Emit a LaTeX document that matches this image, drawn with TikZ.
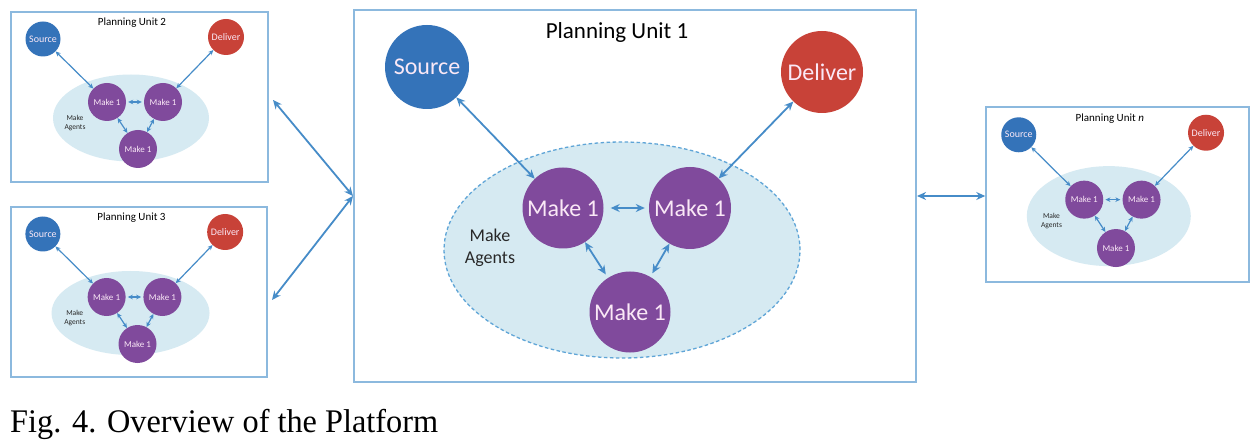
\documentclass[tikz,border=0pt]{standalone}
\usepackage{fontspec}
\setmainfont{Carlito}
\newfontfamily\capfont{Liberation Serif}
\usetikzlibrary{arrows.meta,shapes.geometric}
\definecolor{boxc}{RGB}{140,185,222}
\definecolor{arrc}{RGB}{70,140,200}
\definecolor{srcc}{RGB}{52,115,185}
\definecolor{delc}{RGB}{200,66,56}
\definecolor{makec}{RGB}{128,74,156}
\definecolor{ellc}{RGB}{214,234,242}
\definecolor{elld}{RGB}{95,165,215}
\definecolor{ctext}{RGB}{250,232,246}
\definecolor{agtext}{RGB}{40,40,40}
\tikzset{
  mainbox/.style={draw=boxc, line width=2pt, rectangle, inner sep=0pt},
  sbox/.style={draw=boxc, line width=1.5pt, rectangle, inner sep=0pt},
  bigc/.style={circle, inner sep=0pt, text=ctext, font=\fontsize{24}{26}\selectfont},
  smallc/.style={circle, inner sep=0pt, text=ctext},
  agents/.style={align=center, text=agtext},
  zone/.style={ellipse, fill=ellc, inner sep=0pt},
  barrow/.style={{Stealth[length=9pt,width=8pt]}-{Stealth[length=9pt,width=8pt]}, draw=arrc, line width=1.8pt},
  sarrow/.style={{Stealth[length=5pt,width=4.6pt]}-{Stealth[length=5pt,width=4.6pt]}, draw=arrc, line width=1.2pt},
}
% #1 name, #2 x0, #3 y0, #4 w, #5 h, #6 title, #7 ellipse w, #8 ellipse h
\newcommand\punit[8]{%
  \node[sbox, minimum width=#4pt, minimum height=#5pt] (#1box) at (#2+#4/2,#3+#5/2) {};
  \begin{scope}[shift={(#2,#3)}, xscale={#4/257}, yscale={#5/170}]
    \node[font=\fontsize{11}{13}\selectfont] (#1title) at (121,11) {#6};
    \node[zone, minimum width=#7pt, minimum height=#8pt] (#1ell) at (120,106) {};
    \node[smallc, fill=srcc, minimum size=35pt, font=\fontsize{10}{12}\selectfont] (#1src) at (32,27) {Source};
    \node[smallc, fill=delc, minimum size=36pt, font=\fontsize{10}{12}\selectfont] (#1del) at (215,25) {Deliver};
    \node[smallc, fill=makec, minimum size=38pt, font=\fontsize{9}{11}\selectfont] (#1ml) at (96,90) {Make 1};
    \node[smallc, fill=makec, minimum size=38pt, font=\fontsize{9}{11}\selectfont] (#1mr) at (152,90) {Make 1};
    \node[smallc, fill=makec, minimum size=38pt, font=\fontsize{9}{11}\selectfont] (#1mb) at (127,137) {Make 1};
    \node[agents, font=\fontsize{7.5}{9}\selectfont] (#1ag) at (64,111) {Make\\Agents};
  \end{scope}
  \draw[sarrow] (#1src) -- (#1ml);
  \draw[sarrow] (#1del) -- (#1mr);
  \draw[sarrow, shorten <=2pt, shorten >=2pt] (#1ml) -- (#1mr);
  \draw[sarrow] (#1ml) -- (#1mb);
  \draw[sarrow] (#1mr) -- (#1mb);
}
\begin{document}
\begin{tikzpicture}[x=1pt, y=-1pt]
\useasboundingbox (0,0) rectangle (1250,446);
\fill[white] (0,0) rectangle (1250,446);

% Planning Unit 1 (main)
\node[mainbox, minimum width=562pt, minimum height=371pt] (main) at (635,196) {};
\node[font=\fontsize{23}{26}\selectfont] (t1) at (617,32) {Planning Unit 1};
\node[zone, draw=elld, line width=1.3pt, dash pattern=on 3.5pt off 2.5pt, minimum width=356pt, minimum height=216pt] (ell) at (622,250) {};
\node[bigc, fill=srcc, minimum size=84pt] (src) at (427,67) {Source};
\node[bigc, fill=delc, minimum size=82pt] (del) at (822,72) {Deliver};
\node[bigc, fill=makec, minimum size=81pt] (ml) at (563,208) {Make 1};
\node[bigc, fill=makec, minimum size=82pt] (mr) at (690,208) {Make 1};
\node[bigc, fill=makec, minimum size=81pt] (mb) at (630,312) {Make 1};
\node[agents, font=\fontsize{18}{22}\selectfont] (ag) at (490,248) {Make\\Agents};
\draw[barrow] (src) -- (ml);
\draw[barrow] (del) -- (mr);
\draw[barrow, shorten <=7pt, shorten >=4pt] (ml) -- (mr);
\draw[barrow, shorten >=4pt] (ml) -- (mb);
\draw[barrow, shorten >=4pt] (mr) -- (mb);

% small planning units
\punit{u2}{11}{12}{257}{170}{Planning Unit 2}{156}{87}
\punit{u3}{11}{207}{256}{170}{Planning Unit 3}{158}{84}
\punit{un}{986}{107}{263}{175}{Planning Unit \textit{n}}{164}{100}

% links between units
\coordinate (p2) at (273,100);
\coordinate (p3) at (272,300);
\draw[barrow] (p2) -- (main.west);
\draw[barrow] (p3) -- (main.west);
\draw[barrow] (main.east) -- (main.east -| unbox.west);

% caption
\node[anchor=base west, inner sep=0pt, font=\capfont\fontsize{33}{36}\selectfont] (cap) at (10,432) {\resizebox{428pt}{\height}{Fig. 4. Overview of the Platform}};
\end{tikzpicture}
\end{document}
